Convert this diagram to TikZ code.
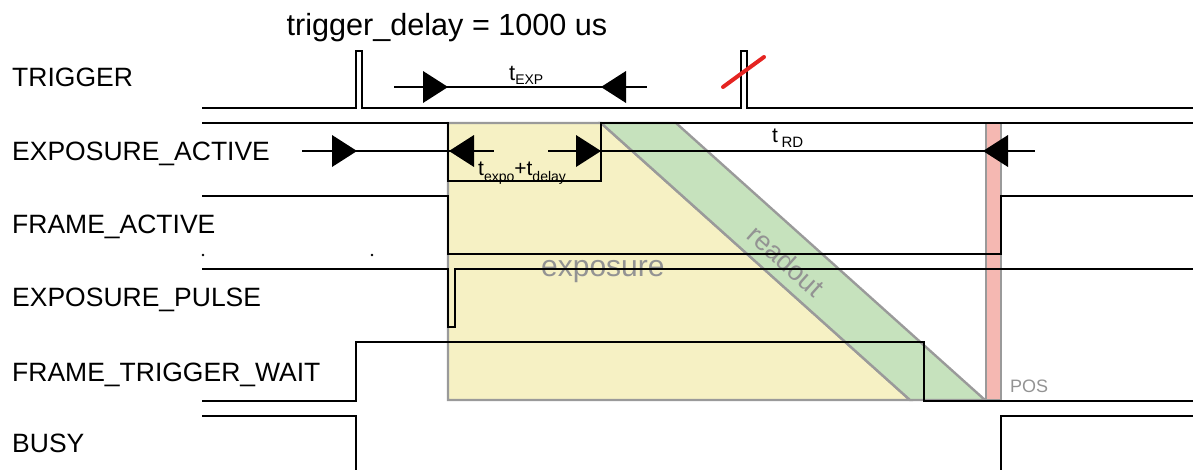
\documentclass[tikz,border=0pt]{standalone}
\usepackage{fontspec}
\setmainfont{Liberation Sans}
\definecolor{yel}{HTML}{F6F1C4}
\definecolor{grn}{HTML}{C6E2BD}
\definecolor{pnk}{HTML}{F5B8B2}
\definecolor{gry}{HTML}{9A9A9A}
\definecolor{gtx}{HTML}{939393}
\definecolor{slash}{HTML}{E52421}
\begin{document}
\begin{tikzpicture}[x=1pt,y=-1pt,
  sig/.style={line width=2.4pt,black,line join=miter},
  edge/.style={line width=2.4pt,gry},
  dim/.style={line width=2.4pt,black},
  lbl/.style={anchor=base west,inner sep=0pt,font=\fontsize{26.5}{30}\selectfont},
  rtri/.pic={\fill (0,0) -- (-25,-16) -- (-25,16) -- cycle;},
  ltri/.pic={\fill (0,0) -- (25,-16) -- (25,16) -- cycle;}]
\useasboundingbox (0,0) rectangle (1193,469);
% regions
\filldraw[fill=yel,draw=gry,line width=2.4pt] (448,123) -- (601,123) -- (910,400) -- (448,400) -- cycle;
\filldraw[fill=grn,draw=gry,line width=2.4pt] (601,123) -- (676,123) -- (985,400) -- (910,400) -- cycle;
\filldraw[fill=pnk,draw=gry,line width=2.4pt] (986,123) rectangle (1001,400);
\node[gtx,anchor=base west,inner sep=0pt,font=\fontsize{30}{32}\selectfont] (expo) at (541,276) {exposure};
\node[gtx,inner sep=0pt,rotate=-41.9,font=\fontsize{27}{30}\selectfont] (rdo) at (786,261) {readout};
\node[gtx,anchor=base west,inner sep=0pt,font=\fontsize{18}{20}\selectfont] (pos) at (1010,392) {POS};
% labels
\node[lbl] (lt) at (12,86) {TRIGGER};
\node[lbl] (lea) at (12,160) {EXPOSURE\_ACTIVE};
\node[lbl] (lfa) at (12,233) {FRAME\_ACTIVE};
\node[lbl] (lep) at (12,306) {EXPOSURE\_PULSE};
\node[lbl] (lftw) at (12,381) {FRAME\_TRIGGER\_WAIT};
\node[lbl] (lb) at (12,452) {BUSY};
\node[anchor=base,inner sep=0pt,font=\fontsize{30.6}{33}\selectfont] (td) at (447,35) {trigger\_delay = 1000 us};
% signals
\draw[sig] (202,108) -- (356,108) -- (356,51) -- (362,51) -- (362,108) -- (741,108) -- (741,51) -- (747,51) -- (747,108) -- (1193,108);
\draw[sig] (202,123) -- (448,123) -- (448,181) -- (601,181) -- (601,123) -- (1193,123);
\draw[sig] (202,196) -- (448,196) -- (448,254) -- (1001,254) -- (1001,196) -- (1193,196);
\draw[sig] (202,269) -- (448,269) -- (448,327) -- (455,327) -- (455,269) -- (1193,269);
\draw[sig] (202,401) -- (356,401) -- (356,342) -- (924,342) -- (924,401) -- (1193,401);
\draw[sig] (202,416) -- (356,416) -- (356,472);
\draw[sig] (1001,472) -- (1001,416) -- (1193,416);
\fill (203,255) circle (1.3);
\fill (372,255) circle (1.3);
\draw[slash,line width=4pt,line cap=round] (723,87) -- (764,57);
% dimension t_EXP
\coordinate (e1) at (394,87);
\coordinate (e2) at (647,87);
\draw[dim] (e1) -- (e2);
\pic at (448,87) {rtri};
\pic at (601,87) {ltri};
\node[anchor=base west,inner sep=0pt,font=\fontsize{22}{24}\selectfont] (texp) at (509,80) {t\raisebox{-4pt}{\fontsize{14}{14}\selectfont EXP}};
% dimension row 2
\coordinate (d1) at (302,151);
\coordinate (d2) at (494,151);
\coordinate (d3) at (548,151);
\coordinate (d4) at (1035,151);
\draw[dim] (d1) -- (d2);
\draw[dim] (d3) -- (d4);
\pic at (357,151) {rtri};
\pic at (449,151) {ltri};
\pic at (601,151) {rtri};
\pic at (983,151) {ltri};
\node[anchor=base west,inner sep=0pt,font=\fontsize{21}{24}\selectfont] (texpo) at (478,175) {t\raisebox{-6pt}{\fontsize{14}{14}\selectfont expo}+t\raisebox{-6pt}{\fontsize{14}{14}\selectfont delay}};
\node[anchor=base west,inner sep=0pt,font=\fontsize{21}{24}\selectfont] (trd) at (772,142) {t\,\raisebox{-5.5pt}{\fontsize{15}{15}\selectfont RD}};
\end{tikzpicture}
\end{document}
